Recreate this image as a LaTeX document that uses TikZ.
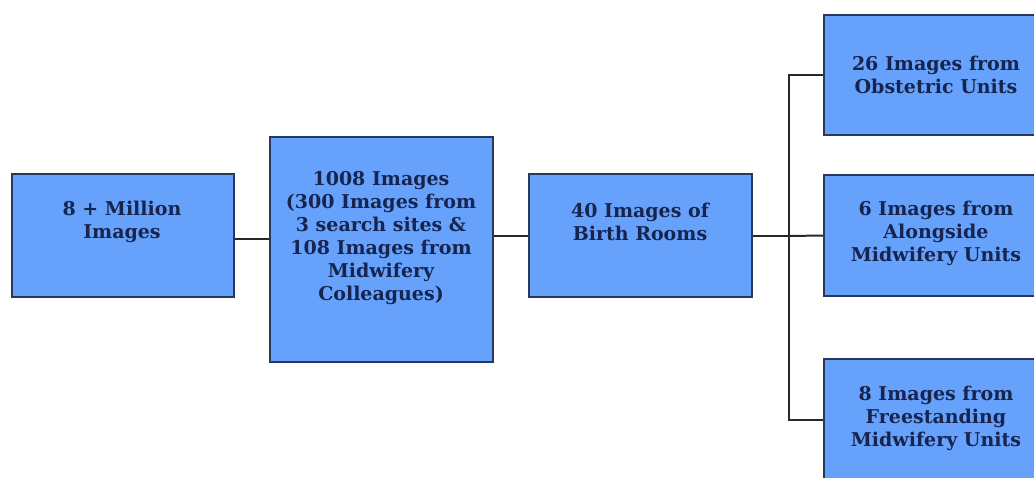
\documentclass[tikz,border=0pt]{standalone}
\usepackage{fontspec}
\setmainfont{DejaVu Serif}
\definecolor{boxfill}{RGB}{102,162,252}
\definecolor{boxedge}{RGB}{38,56,92}
\definecolor{txtcol}{RGB}{22,36,78}
\definecolor{linecol}{RGB}{40,40,40}
\begin{document}
\begin{tikzpicture}[x=1pt,y=-1pt,
  box/.style={draw=boxedge, fill=boxfill, line width=2.5pt, rectangle, inner sep=0pt},
  txt/.style={text=txtcol, font=\fontsize{19}{23}\selectfont\bfseries, align=center, inner sep=0pt},
  conn/.style={draw=linecol, line width=2pt}]
\useasboundingbox (0,0) rectangle (1034,477);
\clip (0,0) rectangle (1034,477);
\fill[white] (0,0) rectangle (1034,477);
% boxes
\node[box, minimum width=222pt, minimum height=123pt] (b1) at (123,235.5) {};
\node[box, minimum width=223pt, minimum height=225pt] (b2) at (381.5,249.5) {};
\node[box, minimum width=223pt, minimum height=123pt] (b3) at (640.5,235.5) {};
\node[box, minimum width=224pt, minimum height=120pt] (b4) at (936,75) {};
\node[box, minimum width=224pt, minimum height=121pt] (b5) at (936,235.5) {};
\node[box, minimum width=224pt, minimum height=121pt] (b6) at (936,419.5) {};
% texts
\node[txt] (t1) at (122,222) {8 + Million\\Images};
\node[txt] (t2) at (381,238.5) {1008 Images\\(300 Images from\\3 search sites \&\\108 Images from\\Midwifery\\Colleagues)};
\node[txt] (t3) at (640,222) {40 Images of\\Birth Rooms};
\node[txt] (t4) at (936,75) {26 Images from\\Obstetric Units};
\node[txt] (t5) at (936,233) {6 Images from\\Alongside\\Midwifery Units};
\node[txt] (t6) at (936,418) {8 Images from\\Freestanding\\Midwifery Units};
% connectors
\coordinate (j) at (789,236);
\draw[conn] (b1.east |- 0,239) -- (b2.west |- 0,239);
\draw[conn] (b2.east |- 0,236) -- (b3.east |- 0,236 -| b3.west);
\draw[conn] (b3.east |- j) -- (j);
\draw[conn] (b4.west) -| (j) |- (b6.west);
\draw[conn] (j) -- (b5.west);
\end{tikzpicture}
\end{document}
